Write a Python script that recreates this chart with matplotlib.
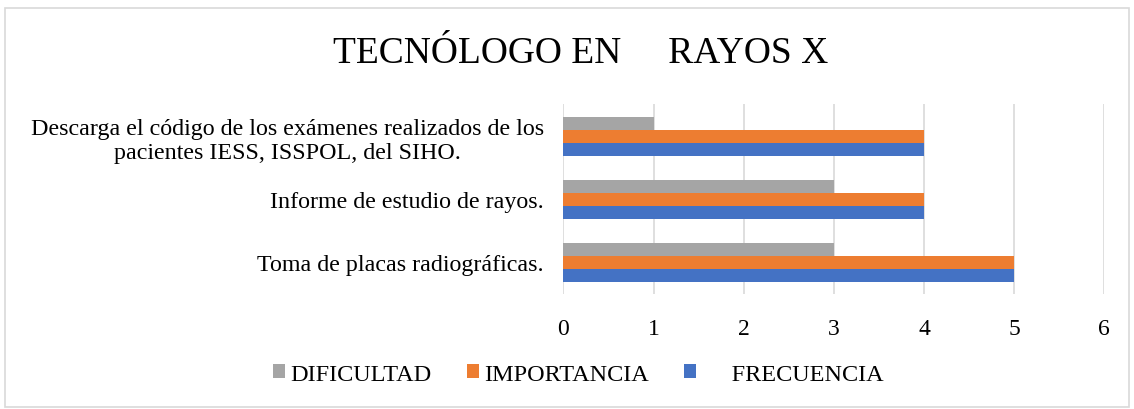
import numpy as np
import matplotlib.pyplot as plt
from matplotlib.patches import Rectangle

plt.rcParams['font.family'] = ['Liberation Serif', 'DejaVu Serif']

categorias = ["Toma de placas radiográficas.",
              "Informe de estudio de rayos.",
              "Descarga el código de los exámenes realizados de los\npacientes IESS, ISSPOL, del SIHO."]
frecuencia = [5, 4, 4]
importancia = [5, 4, 4]
dificultad = [3, 3, 1]
xticks = [0, 1, 2, 3, 4, 5, 6]

fig = plt.figure(figsize=(11.34, 4.10), dpi=100)
ax = fig.add_axes([0.4968, 0.2805, 0.4770, 0.4622])

y = np.arange(len(categorias))
h = 0.205
ax.barh(y - h, frecuencia, h, color='#4472C4', label='     FRECUENCIA')
ax.barh(y, importancia, h, color='#ED7D31', label='IMPORTANCIA')
ax.barh(y + h, dificultad, h, color='#A5A5A5', label='DIFICULTAD')

ax.set_xlim(0, 6)
ax.set_ylim(-0.5, len(categorias) - 0.5)
ax.set_xticks(xticks)
ax.set_yticks(y)
ax.set_yticklabels(categorias, fontsize=17.3, linespacing=1.2)
ax.tick_params(axis='x', labelsize=17, pad=17)
ax.tick_params(length=0)
ax.tick_params(axis='y', pad=14)
for lbl in ax.get_yticklabels():
    lbl.set_horizontalalignment('right')
    lbl.set_multialignment('center')
ax.grid(axis='x', color='#D9D9D9', linewidth=1.2)
ax.set_axisbelow(True)
for s in ax.spines.values():
    s.set_visible(False)

fig.text(0.512, 0.868, "TECNÓLOGO EN     RAYOS X", ha='center', va='center', fontsize=27)

handles, labels = ax.get_legend_handles_labels()
fig.legend(handles[::-1], labels[::-1], loc='center', bbox_to_anchor=(0.51, 0.085),
           ncol=3, frameon=False, fontsize=17.5, handlelength=0.5, handleheight=0.5,
           handletextpad=0.2, columnspacing=1.45)

fig.patches.append(Rectangle((0.0045, 0.005), 0.991, 0.973, transform=fig.transFigure,
                             fill=False, edgecolor='#D9D9D9', linewidth=1.2))

fig.savefig('out.png', dpi=100)
